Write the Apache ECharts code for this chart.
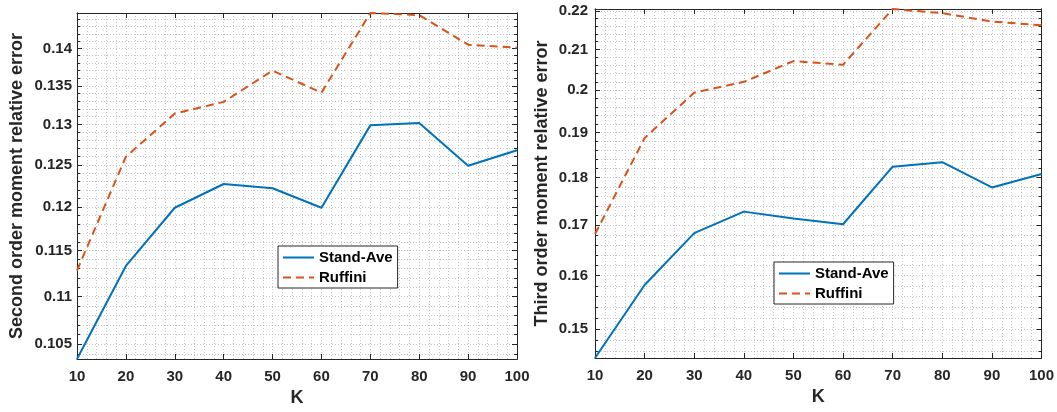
<!DOCTYPE html>
<html>
<head>
<meta charset="utf-8">
<script src="https://cdn.jsdelivr.net/npm/echarts@6/dist/echarts.min.js"></script>
<style>
  html, body { margin: 0; padding: 0; background: #fff; }
  #chart { width: 1057px; height: 412px; }
</style>
</head>
<body>
<div id="chart"></div>
<script>
// Relative error of the estimated moments versus K
const kValues = [10, 20, 30, 40, 50, 60, 70, 80, 90, 100];

const secondStandAve = [0.1035, 0.1133, 0.1199, 0.1227, 0.1222, 0.1199, 0.1299, 0.1302, 0.1249, 0.1268];
const secondRuffini  = [0.1128, 0.1260, 0.1314, 0.1329, 0.1370, 0.1341, 0.1449, 0.1446, 0.1405, 0.1401];

const thirdStandAve = [0.1449, 0.1582, 0.1684, 0.1728, 0.1714, 0.1702, 0.1824, 0.1834, 0.1779, 0.1808];
const thirdRuffini  = [0.1682, 0.1888, 0.1994, 0.2020, 0.2071, 0.2062, 0.2205, 0.2194, 0.2172, 0.2162];

const secondTicks = [0.105, 0.11, 0.115, 0.12, 0.125, 0.13, 0.135, 0.14];
const thirdTicks  = [0.15, 0.16, 0.17, 0.18, 0.19, 0.2, 0.21, 0.22];
const secondMinorStep = 0.001;
const thirdMinorStep  = 0.002;

const seriesNames = ['Stand-Ave', 'Ruffini'];
const yTitles = ['Second order moment relative error', 'Third order moment relative error'];

const AXIS_COLOR = '#262626';
const BLUE = '#0072BD';
const ORANGE = '#D95319';
const FONT = '"Liberation Sans", Arial, Helvetica, sans-serif';
const gridLine = { show: true, lineStyle: { color: '#c6c6c6', width: 1, type: [1, 2] } };

// minor tick positions on the log axis, every `step` inside [lo, hi]
function minorValues(lo, hi, step) {
  const out = [];
  const start = Math.ceil(lo / step - 1e-9);
  const end = Math.floor(hi / step + 1e-9);
  for (let i = start; i <= end; i++) out.push(+(i * step).toFixed(6));
  return out;
}

function pairs(ys) { return kValues.map((k, i) => [k, ys[i]]); }

const panels = [
  { std: secondStandAve, ruf: secondRuffini, ticks: secondTicks, step: secondMinorStep,
    grid: { left: 77, right: 540, top: 13, bottom: 53 }, nameGap: 51, labelMargin: 5 },
  { std: thirdStandAve, ruf: thirdRuffini, ticks: thirdTicks, step: thirdMinorStep,
    grid: { left: 595, right: 15, top: 9, bottom: 54 }, nameGap: 44, labelMargin: 7 }
];

const grids = [], xAxes = [], yAxes = [], series = [];

panels.forEach((p, gi) => {
  const all = p.std.concat(p.ruf);
  const yMin = Math.min.apply(null, all);
  const yMax = Math.max.apply(null, all);
  const minors = minorValues(yMin, yMax, p.step);

  grids.push(Object.assign({ containLabel: false }, p.grid));

  const xBase = {
    type: 'value', gridIndex: gi, min: 10, max: 100, interval: 10,
    axisLine: { show: true, onZero: false, lineStyle: { color: AXIS_COLOR, width: 1 } },
    axisTick: { show: true, inside: true, length: 5, lineStyle: { color: AXIS_COLOR } }
  };
  const xBottomIdx = xAxes.length;
  xAxes.push(Object.assign({}, xBase, {
    position: 'bottom',
    name: 'K', nameLocation: 'middle', nameGap: 30,
    nameTextStyle: { fontFamily: FONT, fontWeight: 'bold', fontSize: 18, color: AXIS_COLOR },
    axisLabel: { show: true, margin: 10, fontFamily: FONT, fontWeight: 'bold', fontSize: 15, color: AXIS_COLOR },
    splitLine: gridLine,
    minorTick: { show: false, splitNumber: 5 },
    minorSplitLine: gridLine
  }));
  xAxes.push(Object.assign({}, xBase, {
    position: 'top', axisLabel: { show: false }, splitLine: { show: false }
  }));

  const yBase = {
    type: 'log', gridIndex: gi, min: yMin, max: yMax,
    axisLine: { show: true, lineStyle: { color: AXIS_COLOR, width: 1 } }
  };
  const yMainIdx = yAxes.length;
  yAxes.push(Object.assign({}, yBase, {
    position: 'left',
    name: yTitles[gi], nameLocation: 'middle', nameGap: p.nameGap,
    nameTextStyle: { fontFamily: FONT, fontWeight: 'bold', fontSize: 18, color: AXIS_COLOR },
    axisLabel: { show: true, customValues: p.ticks, margin: p.labelMargin, fontFamily: FONT, fontWeight: 'bold', fontSize: 15, color: AXIS_COLOR },
    axisTick: { show: true, inside: true, length: 5, customValues: p.ticks, lineStyle: { color: AXIS_COLOR } },
    splitLine: gridLine
  }));
  yAxes.push(Object.assign({}, yBase, {
    position: 'left',
    axisLabel: { show: false },
    axisTick: { show: true, inside: true, length: 3, customValues: minors, lineStyle: { color: AXIS_COLOR } },
    splitLine: gridLine
  }));
  yAxes.push(Object.assign({}, yBase, {
    position: 'right',
    axisLabel: { show: false },
    axisTick: { show: true, inside: true, length: 5, customValues: p.ticks, lineStyle: { color: AXIS_COLOR } },
    splitLine: { show: false }
  }));
  yAxes.push(Object.assign({}, yBase, {
    position: 'right',
    axisLabel: { show: false },
    axisTick: { show: true, inside: true, length: 3, customValues: minors, lineStyle: { color: AXIS_COLOR } },
    splitLine: { show: false }
  }));

  series.push({
    name: seriesNames[0], type: 'line', xAxisIndex: xBottomIdx, yAxisIndex: yMainIdx,
    data: pairs(p.std), symbol: 'none', animation: false,
    lineStyle: { color: BLUE, width: 2 }, itemStyle: { color: BLUE }, z: 3
  });
  series.push({
    name: seriesNames[1], type: 'line', xAxisIndex: xBottomIdx, yAxisIndex: yMainIdx,
    data: pairs(p.ruf), symbol: 'none', animation: false,
    lineStyle: { color: ORANGE, width: 2, type: [8, 5] }, itemStyle: { color: ORANGE }, z: 3
  });
});

const legendBase = {
  orient: 'vertical', data: seriesNames, selectedMode: false,
  itemWidth: 31, itemHeight: 14, itemGap: 5,
  padding: [4, 5, 3, 4],
  itemStyle: { opacity: 0 },
  backgroundColor: '#ffffff', borderColor: AXIS_COLOR, borderWidth: 1,
  textStyle: { fontFamily: FONT, fontWeight: 'bold', fontSize: 15, color: '#000' }
};

const option = {
  backgroundColor: '#ffffff',
  animation: false,
  grid: grids,
  xAxis: xAxes,
  yAxis: yAxes,
  legend: [
    Object.assign({}, legendBase, { left: 278, top: 246 }),
    Object.assign({}, legendBase, { left: 774, top: 262 })
  ],
  series: series
};

const chart = echarts.init(document.getElementById('chart'), null, { renderer: 'canvas' });
chart.setOption(option);
</script>
</body>
</html>
